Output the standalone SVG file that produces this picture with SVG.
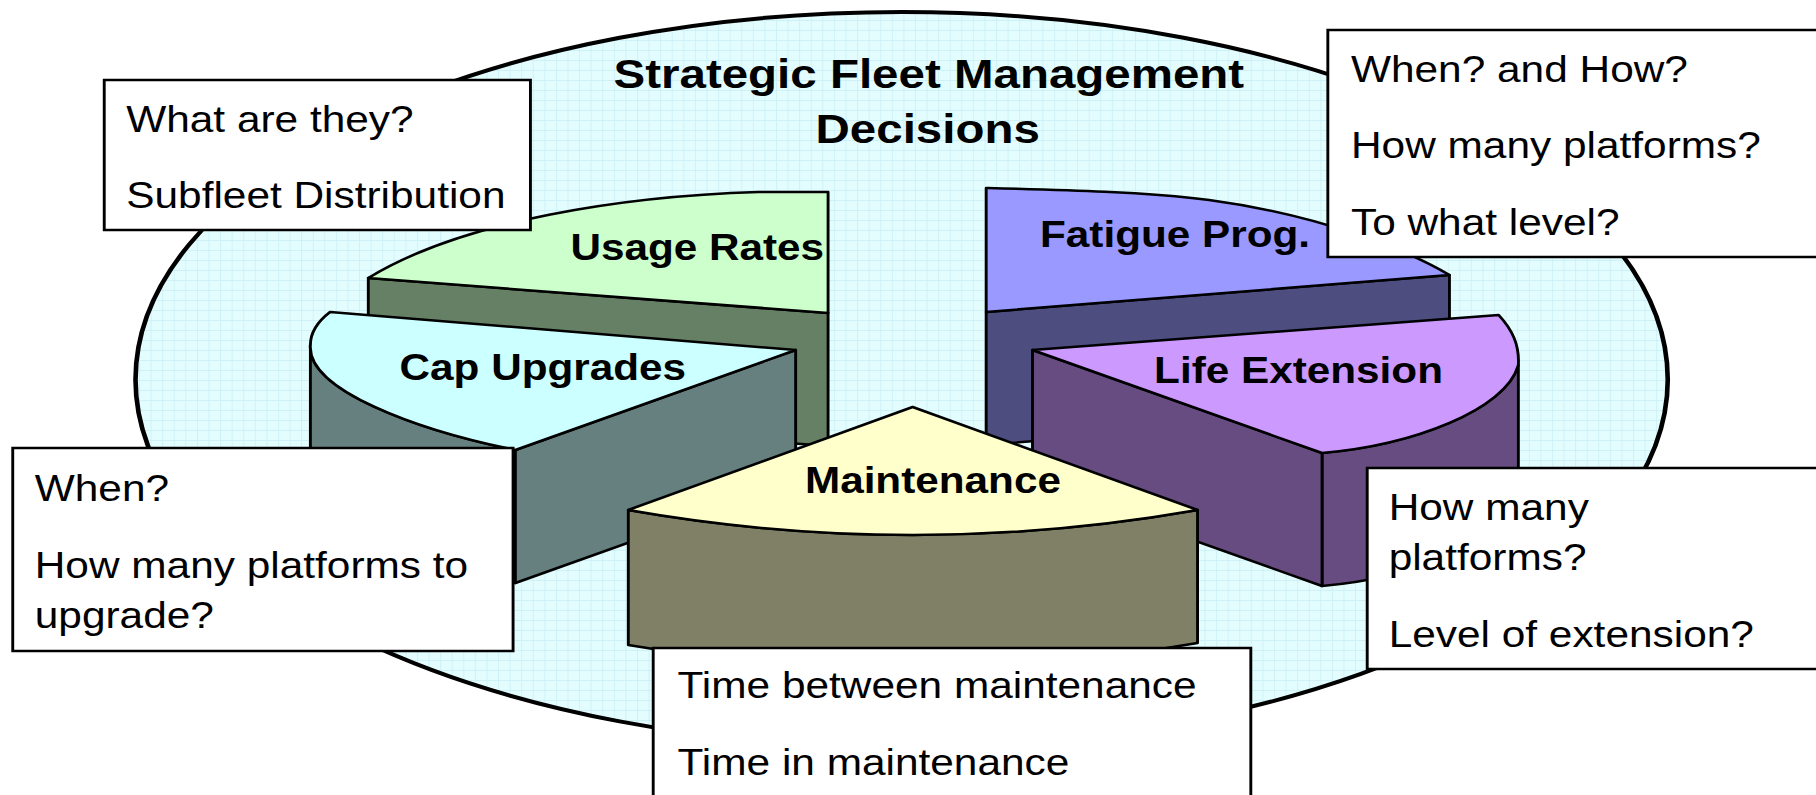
<svg xmlns="http://www.w3.org/2000/svg" width="1816" height="795" viewBox="0 0 1816 795">
<defs>
<pattern id="grid" patternUnits="userSpaceOnUse" width="10" height="10">
<rect width="10" height="10" fill="#E3FDFF"/>
<path d="M0 0.5H10M0.5 0V10" stroke="#CBEFF6" stroke-width="0.8" fill="none"/>
</pattern>
<style>
.o{stroke:#000;stroke-width:2.5;stroke-linejoin:round}
.box{fill:#fff;stroke:#000;stroke-width:2.5}
.t{font-family:"Liberation Sans",Arial,sans-serif;font-size:36.6px;fill:#000}
.b{font-family:"Liberation Sans",Arial,sans-serif;font-size:36.5px;font-weight:bold;fill:#000}
.title{font-family:"Liberation Sans",Arial,sans-serif;font-size:41px;font-weight:bold;fill:#000;text-anchor:middle}
</style>
</defs>
<rect width="1816" height="795" fill="#fff"/>
<g transform="scale(1.158163 1)">
<g id="background">
<ellipse cx="778.5" cy="379.6" rx="661.5" ry="367.6" fill="url(#grid)" stroke="#000" stroke-width="4"/>
</g>
<g id="title">
<text class="title" x="802" y="88">Strategic Fleet Management</text>
<text class="title" x="801" y="143">Decisions</text>
</g>
<g id="usage-rates">
<path class="o" fill="#668066" d="M318,278 L715,313 L715,446 L318,411 Z"/>
<path class="o" fill="#CCFFCC" d="M715,192 L655,192 C540,196 400,220 318,278 L715,313 Z"/>
<text class="b" x="492.5" y="260">Usage Rates</text>
</g>
<g id="fatigue-prog">
<path class="o" fill="#4D4D80" d="M851.5,312 L1251.5,275 L1251.5,408 L851.5,445 Z"/>
<path class="o" fill="#9999FF" d="M851.5,188 L851.5,312 L1251.5,275 C1215,250 1140,215 1044,200 C990,192 920,190 851.5,188 Z"/>
<text class="b" x="898" y="247">Fatigue Prog.</text>
</g>
<g id="cap-upgrades">
<path class="o" fill="#668080" d="M268,345 C265,390 360,430 445,450 L445,583 C360,563 265,523 268,478 Z"/>
<path class="o" fill="#668080" d="M445,450 L687,350 L687,483 L445,583 Z"/>
<path class="o" fill="#CCFFFF" d="M285,312 L687,350 L445,450 C360,430 265,390 268,345 C268,330 276,320 285,312 Z"/>
<text class="b" x="345" y="380">Cap Upgrades</text>
</g>
<g id="life-extension">
<path class="o" fill="#664C80" d="M1141.5,453 C1220,445 1300,410 1311,365 L1311,498 C1300,543 1220,578 1141.5,586 Z"/>
<path class="o" fill="#664C80" d="M891.5,350 L1141.5,453 L1141.5,586 L891.5,483 Z"/>
<path class="o" fill="#CC99FF" d="M891.5,350 L1294,315 C1306,330 1312,345 1311,365 C1300,410 1220,445 1141.5,453 Z"/>
<text class="b" x="996.5" y="383">Life Extension</text>
</g>
<g id="maintenance">
<path class="o" fill="#808066" d="M542.5,510 Q788,560 1034,510 L1034,643 Q788,693 542.5,645 Z"/>
<path class="o" fill="#FFFFCC" d="M788,407 L1034,510 Q788,560 542.5,510 Z"/>
<text class="b" x="695" y="493">Maintenance</text>
</g>
<g id="connectors"></g>
<g id="box-usage">
<rect class="box" x="90" y="80" width="368" height="150"/>
<text class="t" x="109" y="132">What are they?</text>
<text class="t" x="109" y="208">Subfleet Distribution</text>
</g>
<g id="box-fatigue">
<rect class="box" x="1146.5" y="30" width="440" height="227"/>
<text class="t" x="1166.5" y="82">When? and How?</text>
<text class="t" x="1166.5" y="158">How many platforms?</text>
<text class="t" x="1166.5" y="235">To what level?</text>
</g>
<g id="box-cap">
<rect class="box" x="11" y="448" width="432" height="203"/>
<text class="t" x="30" y="501">When?</text>
<text class="t" x="30" y="578">How many platforms to</text>
<text class="t" x="30" y="628">upgrade?</text>
</g>
<g id="box-maintenance">
<rect class="box" x="564" y="648" width="516" height="160"/>
<text class="t" x="585" y="698">Time between maintenance</text>
<text class="t" x="585" y="775">Time in maintenance</text>
</g>
<g id="box-life">
<rect class="box" x="1180.5" y="468" width="400" height="201"/>
<text class="t" x="1199" y="520">How many</text>
<text class="t" x="1199" y="570">platforms?</text>
<text class="t" x="1199" y="647">Level of extension?</text>
</g>
</g>
</svg>
